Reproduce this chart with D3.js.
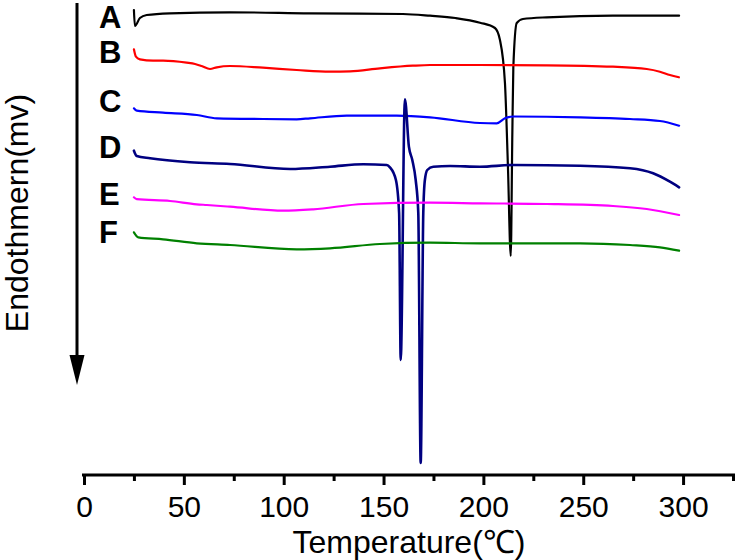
<!DOCTYPE html>
<html>
<head>
<meta charset="utf-8">
<script src="https://cdn.jsdelivr.net/npm/d3@7"></script>
<style>
  html, body { margin: 0; padding: 0; background: #fff; }
  svg { display: block; font-family: Arial, "Liberation Sans", sans-serif; }
</style>
</head>
<body>
<svg id="chart" width="735" height="560"></svg>
<script>
// ---- data (temperature in °C, signal in arbitrary mV offset units) ----
const seriesNames = ["A", "B", "C", "D", "E", "F"];
const seriesColors = ["#000000", "#ff0000", "#0000ff", "#000080", "#ff00ff", "#008000"];
const xTickLabels = [0, 50, 100, 150, 200, 250, 300];

const seriesA = [[25.0,46.5],[25.5,44.9],[28.0,45.7],[31.4,46.0],[43,46.17],[73,46.27],[113,46.17],[159.7,46.1],[173.3,45.93],[186,45.7],[198.3,45.23],[205.8,44.7],[208.3,43.5],[210.8,39.2],[212.3,30.8],[213.7,21.9],[214.5,34.2],[215,40.8],[216.7,45.2],[219.8,45.6],[231.7,45.77],[264.9,45.93],[298,45.93]];
const seriesB = [[25.0,42.57],[26.0,41.83],[28.0,41.57],[34.6,41.43],[39.6,41.43],[51.4,41.23],[55.6,41.1],[58.9,40.9],[63.1,40.6],[66.5,40.77],[73.1,40.9],[89.6,40.73],[106.5,40.5],[123.2,40.33],[133.2,40.37],[148.2,40.67],[164.7,40.93],[173.3,41.0],[198.3,41.0],[231.7,40.97],[264.9,40.83],[281.8,40.6],[288.4,40.33],[293.4,40.0],[297.9,39.77]];
const seriesC = [[25.0,36.67],[26.4,36.43],[39.6,36.23],[56.5,36.0],[66.5,35.67],[89.6,35.6],[106.5,35.57],[113.2,35.67],[131.6,35.93],[156.6,35.93],[173.3,35.77],[198.3,35.2],[206.7,35.17],[210.8,35.67],[215,35.85],[248.4,35.77],[273.4,35.6],[288.4,35.4],[298,34.93]];
const seriesD = [[25.0,32.43],[26.4,31.9],[33.1,31.67],[53.1,31.27],[73.1,31.1],[103.2,30.6],[123.2,30.83],[139.9,31.07],[151.6,31.0],[153.2,30.77],[156.2,29.5],[157.8,26.2],[158.6,11.5],[160.7,37.57],[162.7,32.83],[164.4,31.5],[166.1,29.5],[167.4,26.2],[168.6,1.2],[169.9,26.2],[170.7,29.5],[171.9,30.5],[174.9,30.83],[183.3,30.9],[198.3,30.83],[215,31.0],[248.4,30.93],[273.4,30.67],[285,30.17],[293.4,29.33],[298,28.77]];
const seriesE = [[25.0,27.77],[26.4,27.58],[43.1,27.4],[56.4,27.07],[61.5,27.0],[73.1,26.83],[99.8,26.43],[114.8,26.57],[139.9,27.1],[173.3,27.23],[198.3,27.17],[231.7,27.1],[264.9,26.9],[281.8,26.6],[298,26.0]];
const seriesF = [[25.0,24.27],[27.2,23.77],[39.6,23.57],[56.5,23.17],[73.1,23.0],[106.5,22.57],[123.2,22.67],[148.2,23.1],[173.3,23.23],[198.3,23.17],[248.4,23.17],[273.4,23.0],[288.4,22.77],[298,22.43]];
const allSeries = [seriesA, seriesB, seriesC, seriesD, seriesE, seriesF];

// ---- layout ----
const svg = d3.select("#chart");
const x = d3.scaleLinear().domain([0, 326]).range([84, 735]);
const y = d3.scaleLinear().domain([0, 47.5]).range([475, 0]);
const axisY = 475;

// x axis: major ticks
const gx = svg.append("g").attr("transform", `translate(0,${axisY})`);
gx.append("line").attr("x1", 82).attr("x2", 735).attr("y1", 0).attr("y2", 0)
  .attr("stroke", "#000").attr("stroke-width", 3.2);
const major = d3.axisBottom(x).tickValues(xTickLabels).tickSize(10).tickSizeOuter(0).tickFormat(d3.format("d"));
const gMajor = gx.append("g").call(major);
gMajor.select(".domain").remove();
gMajor.selectAll(".tick line").attr("stroke", "#000").attr("stroke-width", 3);
gMajor.selectAll(".tick text").attr("font-size", 30).attr("fill", "#000").attr("dy", 0).attr("y", 42)
  .attr("font-family", "Arial, 'Liberation Sans', sans-serif");
const minorVals = d3.range(25, 326, 50);
const minor = d3.axisBottom(x).tickValues(minorVals).tickSize(6).tickSizeOuter(0).tickFormat("");
const gMinor = gx.append("g").call(minor);
gMinor.select(".domain").remove();
gMinor.selectAll(".tick line").attr("stroke", "#000").attr("stroke-width", 3);

// x title
svg.append("text").attr("x", 409).attr("y", 553).attr("text-anchor", "middle")
  .attr("font-size", 32).attr("fill", "#000").text("Temperature(℃)");

// y arrow axis
svg.append("line").attr("x1", 77).attr("x2", 77).attr("y1", 3).attr("y2", 357)
  .attr("stroke", "#000").attr("stroke-width", 3);
svg.append("path").attr("d", "M69.5,355 L84.5,355 L77,385 Z").attr("fill", "#000");

// y title
svg.append("text").attr("transform", "translate(28,213) rotate(-90)").attr("text-anchor", "middle")
  .attr("font-size", 32).attr("fill", "#000").text("Endothmern(mv)");

// curves
const line = d3.line().x(d => x(d[0])).y(d => y(d[1])).curve(d3.curveMonotoneX);
allSeries.forEach((s, i) => {
  svg.append("path").datum(s).attr("d", line).attr("fill", "none")
    .attr("stroke", seriesColors[i]).attr("stroke-width", i === 3 ? 2.6 : 2.2)
    .attr("stroke-linejoin", "round").attr("stroke-linecap", "round");
});

// series labels
const labelBaselines = [28, 63, 112, 158, 205, 243];
seriesNames.forEach((n, i) => {
  svg.append("text").attr("x", 99).attr("y", labelBaselines[i])
    .attr("font-size", 31).attr("font-weight", "bold").attr("fill", "#000").text(n);
});
</script>
</body>
</html>
